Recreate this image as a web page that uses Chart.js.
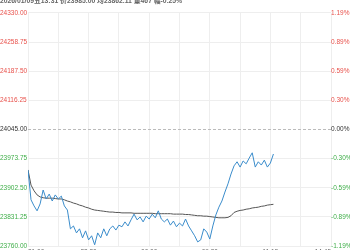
<!DOCTYPE html>
<html lang="zh">
<head>
  <meta charset="UTF-8">
  <title>分时图</title>
  <script src="https://cdn.jsdelivr.net/npm/chart.js"></script>
  <style>
    html, body { margin: 0; padding: 0; background: #fff; overflow: hidden; }
    .wrap { position: absolute; left: 0; top: -3px; width: 350px; height: 263px; }
  </style>
</head>
<body>
  <div class="wrap"><canvas id="minuteChart"></canvas></div>

  <script>
    const headerText = '2026/01/09五13:31 价23985.00 均23862.11 量467 幅-0.25%';
    const prevClose = 24045;

    const yTickValues = [23760, 23831.25, 23902.5, 23973.75, 24045, 24116.25, 24187.5, 24258.75, 24330];
    const yTickLabels = ['23760.00', '23831.25', '23902.50', '23973.75', '24045.00', '24116.25', '24187.50', '24258.75', '24330.00'];
    const pctTickLabels = ['-1.19%', '-0.89%', '-0.59%', '-0.30%', '0.00%', '0.30%', '0.59%', '0.89%', '1.19%'];

    const xTickValues = [0, 30, 60, 90, 120, 150, 180, 210, 240, 270, 300];
    const xTickLabels = ['21:00', '', '22:30', '', '00:00', '', '09:30', '', '11:15', '', '14:45'];
    const xStep = 3; // one point every 3 slots

    // last price
    const prices = [
      23946, 23873, 23858, 23846, 23863, 23897, 23875, 23887, 23870, 23885,
      23875, 23882, 23858, 23848, 23802, 23809, 23792, 23802, 23780, 23797,
      23775, 23785, 23763, 23792, 23780, 23802, 23785, 23802, 23809, 23799,
      23811, 23807, 23819, 23809, 23824, 23838, 23824, 23831, 23819, 23833,
      23826, 23838, 23829, 23846, 23826, 23819, 23826, 23811, 23821, 23807,
      23816, 23809, 23826, 23809, 23797, 23785, 23770, 23775, 23802, 23794,
      23777, 23809, 23836, 23855, 23870, 23892, 23912, 23936, 23956, 23966,
      23953, 23968, 23961, 23975, 23988, 23953, 23966, 23958, 23970, 23953,
      23963, 23985
    ];

    // average price
    const avgPrices = [
      23946, 23909, 23895, 23885, 23880, 23878, 23877, 23877, 23877, 23876,
      23875, 23875, 23873, 23870, 23868, 23865, 23863, 23860, 23858, 23855,
      23853, 23850, 23848, 23847, 23846, 23845, 23844, 23843, 23843, 23842,
      23842, 23841, 23841, 23841, 23841, 23840, 23840, 23840, 23840, 23840,
      23840, 23840, 23839, 23839, 23839, 23839, 23839, 23839, 23838, 23838,
      23838, 23838, 23837, 23837, 23836, 23835, 23834, 23834, 23833, 23833,
      23832, 23831, 23830, 23829, 23829, 23829, 23830, 23834, 23842, 23845,
      23847, 23848, 23850, 23851, 23853, 23854, 23855, 23857, 23858, 23860,
      23861, 23862
    ];

    const fontFamily = "'Liberation Sans', 'Noto Sans CJK SC', sans-serif";
    const smallFont = { family: fontFamily, size: 6.5 };

    function labelColor(v) {
      if (v > prevClose) return '#e8514b';
      if (v < prevClose) return '#3fae49';
      return '#333333';
    }

    function setTicks(values) {
      return axis => { axis.ticks = values.map(v => ({ value: v })); };
    }

    const ctx = document.getElementById('minuteChart').getContext('2d');

    new Chart(ctx, {
      type: 'line',
      data: {
        datasets: [
          {
            data: prices.map((p, i) => ({ x: i * xStep, y: p })),
            borderColor: '#3a8ccb',
            borderWidth: 1,
            pointRadius: 0,
            tension: 0,
            yAxisID: 'y'
          },
          {
            data: avgPrices.map((p, i) => ({ x: i * xStep, y: p })),
            borderColor: '#555555',
            borderWidth: 1,
            pointRadius: 0,
            tension: 0,
            yAxisID: 'y'
          }
        ]
      },
      options: {
        animation: false,
        responsive: true,
        maintainAspectRatio: false,
        layout: { padding: 0 },
        plugins: {
          legend: { display: false },
          tooltip: { enabled: false },
          title: {
            display: true,
            text: headerText,
            align: 'start',
            color: '#666666',
            font: { family: fontFamily, size: 6.8 },
            padding: { top: 0, bottom: 7.8 }
          }
        },
        scales: {
          x: {
            type: 'linear',
            min: 0,
            max: 300,
            afterBuildTicks: setTicks(xTickValues),
            afterFit: axis => { axis.height = 14; },
            grid: { color: '#eeeeee', drawTicks: false },
            border: { display: false },
            ticks: {
              autoSkip: false,
              maxRotation: 0,
              align: 'inner',
              padding: 2,
              color: '#666666',
              font: smallFont,
              callback: (v, i) => xTickLabels[i]
            }
          },
          y: {
            position: 'left',
            min: 23760,
            max: 24330,
            afterBuildTicks: setTicks(yTickValues),
            afterFit: axis => { axis.width = 28; },
            grid: {
              color: c => (c.tick && c.tick.value === prevClose) ? '#bbbbbb' : '#eeeeee',
              drawTicks: false
            },
            border: {
              display: false,
              dash: c => (c.tick && c.tick.value === prevClose) ? [3, 2] : []
            },
            ticks: {
              crossAlign: 'far',
              padding: 0,
              font: smallFont,
              color: c => labelColor(c.tick.value),
              callback: (v, i) => yTickLabels[i]
            }
          },
          y2: {
            position: 'right',
            min: 23760,
            max: 24330,
            afterBuildTicks: setTicks(yTickValues),
            afterFit: axis => { axis.width = 19; },
            grid: { drawOnChartArea: false, drawTicks: false },
            border: { display: false },
            ticks: {
              crossAlign: 'near',
              padding: 0,
              font: smallFont,
              color: c => labelColor(c.tick.value),
              callback: (v, i) => pctTickLabels[i]
            }
          }
        }
      }
    });
  </script>
</body>
</html>
